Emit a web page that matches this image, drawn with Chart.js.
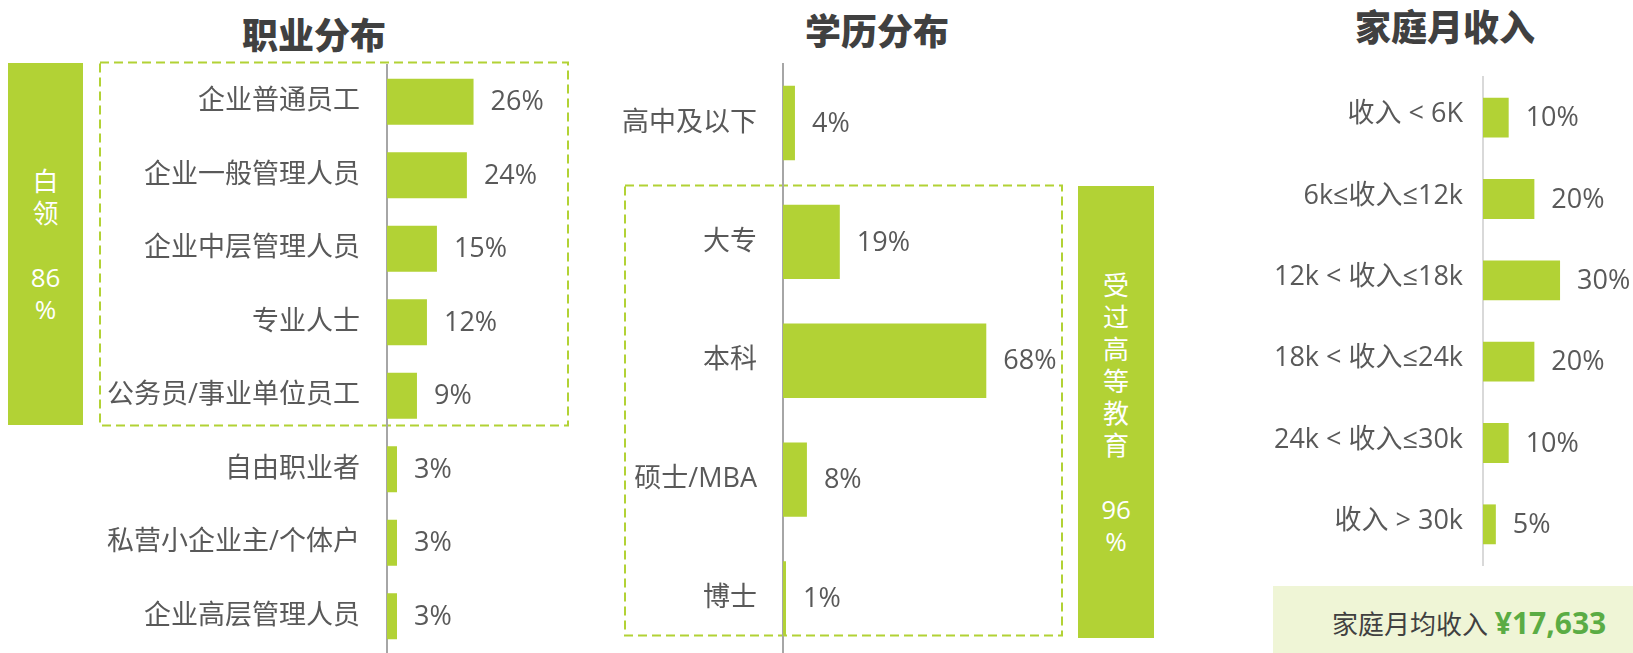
<!DOCTYPE html>
<html lang="zh-CN">
<head>
<meta charset="utf-8">
<title>职业分布 / 学历分布 / 家庭月收入</title>
<script src="https://cdn.jsdelivr.net/npm/chart.js@4.4.1/dist/chart.umd.min.js"></script>
<style>
  html, body { margin: 0; padding: 0; background: #fff; }
  body { width: 1633px; height: 653px; position: relative; overflow: hidden; }
  canvas { position: absolute; top: 0; }
  svg { position: absolute; left: 0; top: 0; }
  .title { position: absolute; width: 400px; text-align: center; font: 900 36px/40px "Noto Sans CJK SC", sans-serif; color: #404040; }
  .tag { position: absolute; background: #b2d235; }
  .tag-text { position: absolute; left: 0; right: 0; text-align: center; color: #fff; font: 26px/32px "Open Sans", "Noto Sans CJK SC", sans-serif; white-space: pre; }
  .avg { position: absolute; left: 1273px; top: 586px; width: 360px; height: 67px; background: #eff5d6; }
  .avg-text { position: absolute; left: 59px; top: 17px; font: 26px/40px "Open Sans", "Noto Sans CJK SC", sans-serif; color: #404040; white-space: nowrap; }
  .avg-text b { color: #5aac44; font: 700 30px/40px "Open Sans", "Noto Sans CJK SC", sans-serif; }
</style>
</head>
<body>

<svg width="1633" height="653">
  <rect x="100" y="62.5" width="468" height="363" fill="none" stroke="#b2d235" stroke-width="2" stroke-dasharray="9 5"/>
  <rect x="625" y="185.5" width="437" height="450" fill="none" stroke="#b2d235" stroke-width="2" stroke-dasharray="9 5"/>
</svg>

<div class="title" style="left:114px; top:13px;">职业分布</div>
<div class="title" style="left:677px; top:9px;">学历分布</div>
<div class="title" style="left:1245px; top:5px;">家庭月收入</div>

<div class="tag" style="left:8px; top:63px; width:75px; height:362px;">
  <div class="tag-text" id="tagWhite" style="top:102px;"></div>
</div>
<div class="tag" style="left:1078px; top:186px; width:76px; height:452px;">
  <div class="tag-text" id="tagEdu" style="top:83px;"></div>
</div>

<div class="avg"><div class="avg-text" id="avgText"></div></div>

<canvas id="jobChart" width="620" height="653" style="left:0px;"></canvas>
<canvas id="eduChart" width="470" height="660" style="left:600px;"></canvas>
<canvas id="incomeChart" width="443" height="653" style="left:1190px;"></canvas>

<script>
const GREEN = "#b2d235";
const TEXT = "#595959";
const FONT = '"Open Sans", "Noto Sans CJK SC", sans-serif';

const jobLabels = [
  "企业普通员工",
  "企业一般管理人员",
  "企业中层管理人员",
  "专业人士",
  "公务员/事业单位员工",
  "自由职业者",
  "私营小企业主/个体户",
  "企业高层管理人员",
];
const jobValues = [26, 24, 15, 12, 9, 3, 3, 3];

const eduLabels = ["高中及以下", "大专", "本科", "硕士/MBA", "博士"];
const eduValues = [4, 19, 68, 8, 1];

const incomeLabels = [
  "收入 < 6K",
  "6k≤收入≤12k",
  "12k < 收入≤18k",
  "18k < 收入≤24k",
  "24k < 收入≤30k",
  "收入 > 30k",
];
const incomeValues = [10, 20, 30, 20, 10, 5];

const whiteCollarShare = 86;
const higherEduShare = 96;
const avgIncome = "¥17,633";

// vertical tag text: one char per line, blank line, then the share
function tagLines(label, share) {
  return label.split("").join("\n") + "\n\n" + share + "\n%";
}
document.getElementById("tagWhite").textContent = tagLines("白领", whiteCollarShare);
document.getElementById("tagEdu").textContent = tagLines("受过高等教育", higherEduShare);
document.getElementById("avgText").innerHTML = "家庭月均收入 <b>" + avgIncome + "</b>";

const valueLabels = {
  id: "valueLabels",
  afterDatasetsDraw(chart) {
    const { ctx } = chart;
    const values = chart.data.datasets[0].data;
    ctx.save();
    ctx.font = `27px ${FONT}`;
    ctx.fillStyle = TEXT;
    ctx.textAlign = "left";
    ctx.textBaseline = "middle";
    chart.getDatasetMeta(0).data.forEach((bar, i) => {
      ctx.fillText(values[i] + "%", bar.x + 17, bar.y + 1);
    });
    ctx.restore();
  },
};

function makeChart(id, labels, values, o) {
  return new Chart(document.getElementById(id), {
    type: "bar",
    data: {
      labels,
      datasets: [
        {
          data: values,
          backgroundColor: GREEN,
          borderWidth: 0,
          categoryPercentage: 1,
          barPercentage: o.barPct,
        },
      ],
    },
    options: {
      indexAxis: "y",
      responsive: false,
      animation: false,
      layout: { padding: { top: o.top, bottom: o.bottom, left: 0, right: 0 } },
      plugins: { legend: { display: false }, tooltip: { enabled: false } },
      scales: {
        x: { display: false, min: 0, max: o.max },
        y: {
          afterFit: (scale) => {
            // fixed axis position, no extra room reserved for label overhang
            scale.width = o.axisX;
            scale.paddingTop = 0;
            scale.paddingBottom = 0;
          },
          grid: { display: false, drawTicks: false },
          border: { display: true, color: o.axisColor, width: 2 },
          ticks: {
            color: TEXT,
            padding: o.pad,
            labelOffset: o.labelOffset || 0,
            font: { family: FONT, size: 27 },
          },
        },
      },
    },
    plugins: [valueLabels],
  });
}

makeChart("jobChart", jobLabels, jobValues, {
  axisX: 387, top: 65, bottom: 0, max: 70, pad: 27, barPct: 0.626, axisColor: "#a6a6a6",
});
makeChart("eduChart", eduLabels, eduValues, {
  axisX: 183, top: 63.5, bottom: 2, max: 96, pad: 26, barPct: 0.626, axisColor: "#a6a6a6",
});
makeChart("incomeChart", incomeLabels, incomeValues, {
  axisX: 293, top: 77, bottom: 88, max: 58.4, pad: 20, barPct: 0.49, axisColor: "#d9d9d9", labelOffset: -3,
});
</script>
</body>
</html>
